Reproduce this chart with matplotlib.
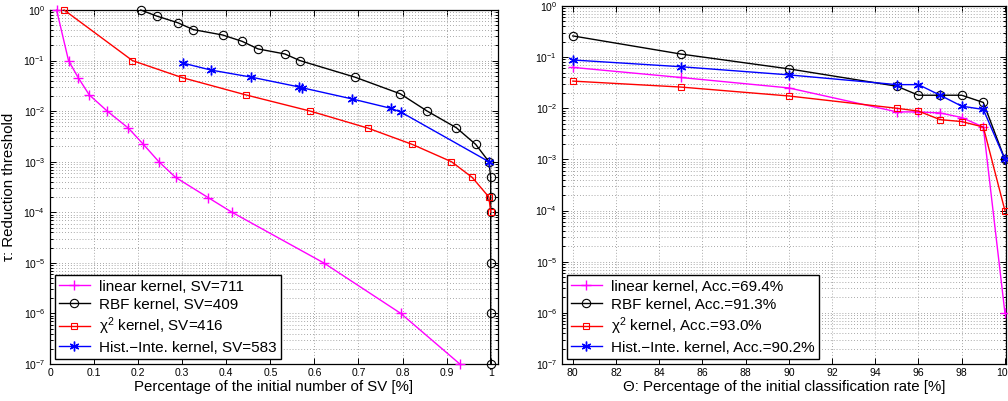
import matplotlib
matplotlib.use("Agg")
import matplotlib.pyplot as plt
from matplotlib.ticker import LogLocator, MultipleLocator, NullLocator, NullFormatter

plt.rcParams['font.family'] = ['Liberation Sans', 'DejaVu Sans']
plt.rcParams['mathtext.fontset'] = 'custom'
plt.rcParams['mathtext.rm'] = 'Liberation Sans'
plt.rcParams['mathtext.it'] = 'Liberation Sans:italic'
plt.rcParams['mathtext.default'] = 'regular'

# ---------------- Left panel data ----------------
lin_x = [0.015, 0.042, 0.064, 0.089, 0.13, 0.178, 0.212, 0.247, 0.285, 0.359, 0.413, 0.621, 0.796, 0.93]
lin_y = [1, 0.1, 0.046, 0.021, 0.01, 0.0046, 0.0022, 0.001, 0.00049, 0.000195, 1e-4, 1e-5, 1e-6, 1e-7]

rbf_x = [0.206, 0.242, 0.29, 0.325, 0.392, 0.436, 0.472, 0.533, 0.567, 0.692, 0.795, 0.856,
         0.922, 0.966, 0.996, 1.0, 1.0, 1.0, 1.0, 1.0, 1.0]
rbf_y = [1, 0.76, 0.56, 0.41, 0.32, 0.24, 0.17, 0.135, 0.1, 0.047, 0.022, 0.01,
         0.0047, 0.0022, 0.001, 5e-4, 2e-4, 1e-4, 1e-5, 1e-6, 1e-7]

chi_x = [0.032, 0.187, 0.3, 0.444, 0.591, 0.722, 0.822, 0.911, 0.958, 0.996, 1.0]
chi_y = [1, 0.1, 0.046, 0.021, 0.01, 0.0046, 0.0022, 0.001, 0.00049, 0.0002, 0.0001]

hi_x = [0.302, 0.365, 0.457, 0.566, 0.572, 0.686, 0.773, 0.797, 0.996]
hi_y = [0.089, 0.065, 0.047, 0.030, 0.029, 0.0174, 0.0114, 0.0095, 0.001]

left_labels = ["linear kernel, SV=711", "RBF kernel, SV=409",
               "χ$^{2}$ kernel, SV=416", "Hist.\u2212Inte. kernel, SV=583"]

# ---------------- Right panel data ----------------
theta = [80, 85, 90, 95, 96, 97, 98, 99, 100]
lin_r = [0.063, 0.04, 0.025, 0.0085, 0.0085, 0.0081, 0.0066, 0.0043, 1e-6]
rbf_r = [0.26, 0.115, 0.059, 0.027, 0.018, 0.018, 0.018, 0.013, 0.001]
chi_r = [0.034, 0.026, 0.0174, 0.01, 0.0088, 0.006, 0.0055, 0.0043, 1e-4]
hi_r = [0.088, 0.065, 0.045, 0.029, 0.029, 0.018, 0.011, 0.0095, 0.001]

right_labels = ["linear kernel, Acc.=69.4%", "RBF kernel, Acc.=91.3%",
                "χ$^{2}$ kernel, Acc.=93.0%", "Hist.\u2212Inte. kernel, Acc.=90.2%"]

left_xticks = [0, 0.1, 0.2, 0.3, 0.4, 0.5, 0.6, 0.7, 0.8, 0.9, 1]
left_xticklabels = ["0", "0.1", "0.2", "0.3", "0.4", "0.5", "0.6", "0.7", "0.8", "0.9", "1"]
right_xticks = [80, 82, 84, 86, 88, 90, 92, 94, 96, 98, 100]

W, H = 1008, 401
fig = plt.figure(figsize=(W / 100, H / 100), dpi=100)
axL = fig.add_axes([50 / W, 1 - 364 / H, (498 - 50) / W, (364 - 10) / H])
axR = fig.add_axes([562 / W, 1 - 364 / H, (1006 - 562) / W, (364 - 6) / H])

styles = [
    dict(color='#ff00ff', marker='+', ms=7, mew=1.0),
    dict(color='black', marker='o', ms=6, mfc='none', mew=0.8),
    dict(color='#ff0000', marker='s', ms=5, mfc='none', mew=0.8),
    dict(color='#0000ff', marker=(6, 2, 0), ms=7, mew=1.0),
]

GRID = dict(ls=(0, (1, 2.5)), color='0.55', lw=0.6)

def style_axes(ax):
    ax.set_yscale('log')
    ax.set_ylim(1e-7, 1)
    ax.yaxis.set_major_locator(LogLocator(base=10, numticks=12))
    ax.yaxis.set_minor_locator(LogLocator(base=10, subs=range(2, 10), numticks=12))
    ax.yaxis.set_minor_formatter(NullFormatter())
    ax.xaxis.set_minor_locator(NullLocator())
    ax.grid(True, which='major', **GRID)
    ax.grid(True, which='minor', axis='y', **GRID)
    ax.tick_params(which='both', direction='in', top=True, right=True, labelsize=7.5, width=0.7)
    ax.tick_params(which='major', length=4)
    ax.tick_params(which='minor', length=2)
    ax.tick_params(axis='x', pad=3)
    for s in ax.spines.values():
        s.set_linewidth(0.9)
        s.set_color('black')
    ax.set_axisbelow(True)

# Left panel
for (xs, ys), st, lab in zip([(lin_x, lin_y), (rbf_x, rbf_y), (chi_x, chi_y), (hi_x, hi_y)],
                             styles, left_labels):
    axL.plot(xs, ys, lw=1.0, label=lab, clip_on=False, zorder=3, **st)
style_axes(axL)
axL.set_xlim(0, 1.0166)
axL.set_xticks(left_xticks)
axL.set_xticklabels(left_xticklabels)
axL.set_xlabel("Percentage of the initial number of SV [%]", fontsize=10.8, labelpad=1.5)
axL.set_ylabel("τ: Reduction threshold", fontsize=10.8, labelpad=5)
leg = axL.legend(loc='lower left', fontsize=11, frameon=True, fancybox=False,
                 edgecolor='black', framealpha=1, borderaxespad=0.3,
                 labelspacing=0.25, handlelength=2.0, borderpad=0.3, handletextpad=0.6)
leg.get_frame().set_linewidth(1.0)

# Right panel
for ys, st, lab in zip([lin_r, rbf_r, chi_r, hi_r], styles, right_labels):
    axR.plot(theta, ys, lw=1.0, label=lab, clip_on=False, zorder=3, **st)
style_axes(axR)
axR.set_xlim(79.5, 100.05)
axR.set_xticks(right_xticks)
axR.set_xlabel("Θ: Percentage of the initial classification rate [%]", fontsize=10.8, labelpad=1.5)
leg = axR.legend(loc='lower left', fontsize=11, frameon=True, fancybox=False,
                 edgecolor='black', framealpha=1, borderaxespad=0.3,
                 labelspacing=0.25, handlelength=2.0, borderpad=0.3, handletextpad=0.6)
leg.get_frame().set_linewidth(1.0)

fig.savefig("out.png", dpi=100)
